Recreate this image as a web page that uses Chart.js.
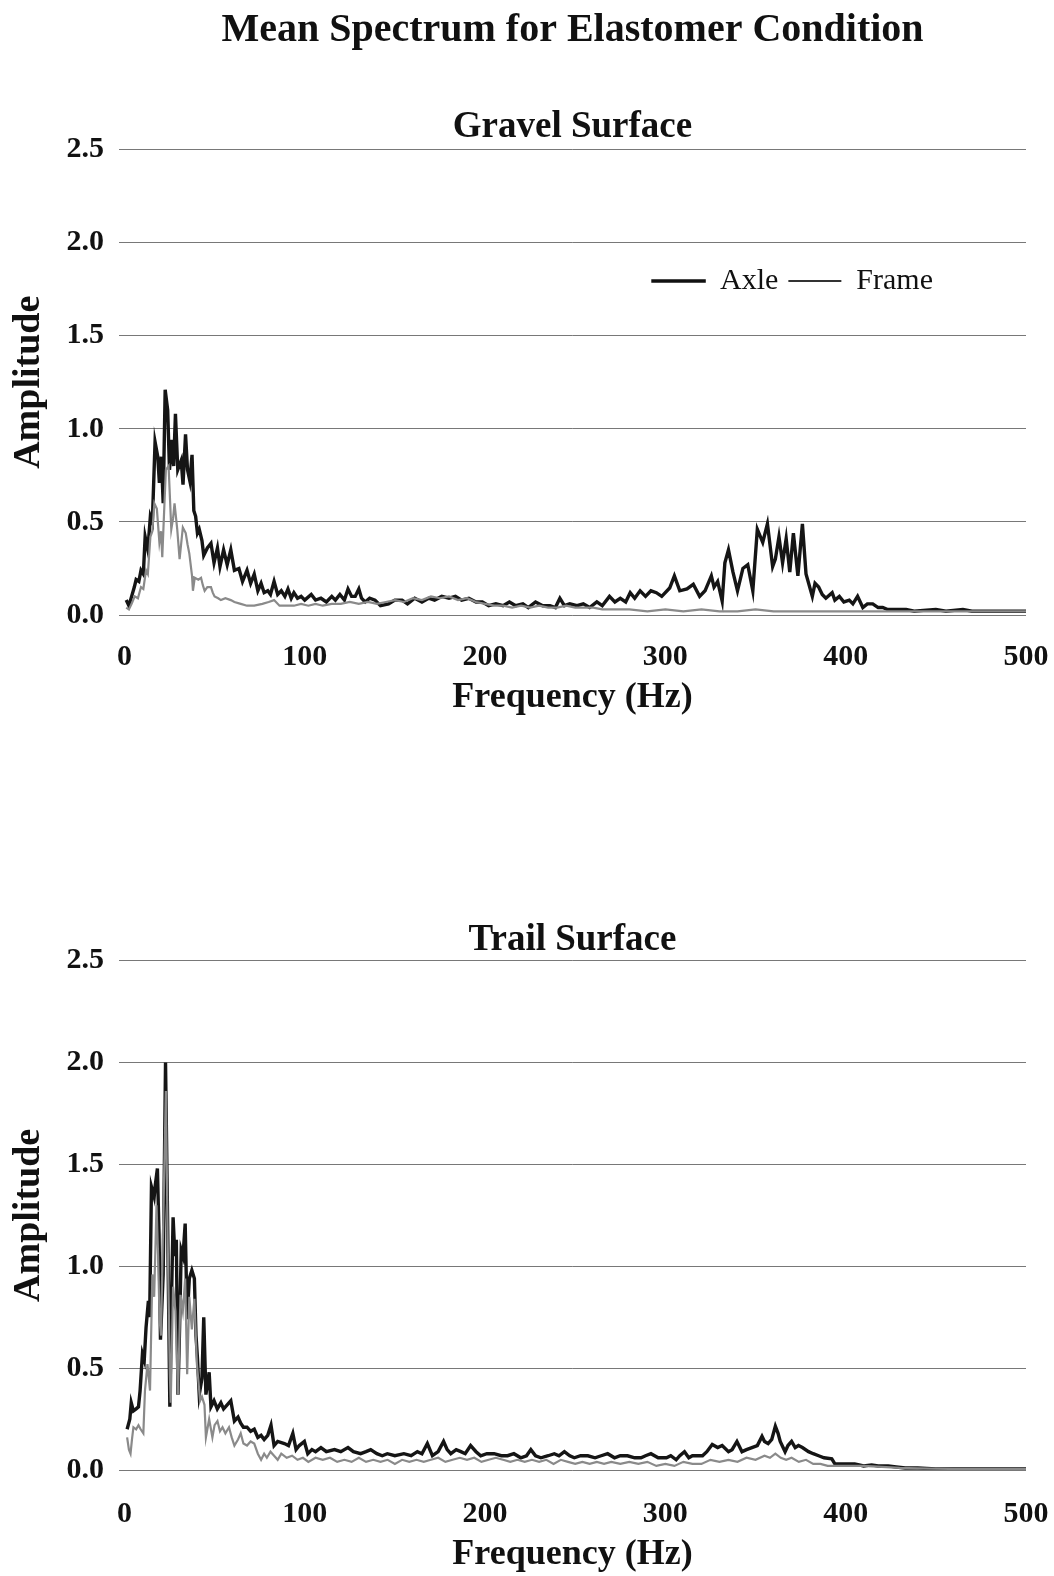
<!DOCTYPE html>
<html>
<head>
<meta charset="utf-8">
<script src="https://cdn.jsdelivr.net/npm/chart.js@4/dist/chart.umd.min.js"></script>
<style>
  html, body { margin: 0; padding: 0; background: #fff; overflow: hidden; }
  body { width: 1054px; height: 1576px; position: relative; }
  canvas { position: absolute; left: 0; }
  #top { top: 0; }
  #bottom { top: 900px; }
</style>
</head>
<body>
<canvas id="top" width="1054" height="730"></canvas>
<canvas id="bottom" width="1054" height="676"></canvas>
<script>
// ---------- text ----------
const mainTitle = 'Mean Spectrum for Elastomer Condition';
const panelTitles = ['Gravel Surface', 'Trail Surface'];
const seriesNames = ['Axle', 'Frame'];
const xAxisTitle = 'Frequency (Hz)';
const yAxisTitle = 'Amplitude';
const xTickValues = [0, 100, 200, 300, 400, 500];
const yTickValues = [0, 0.5, 1.0, 1.5, 2.0, 2.5];

// ---------- data: [frequency Hz, amplitude] ----------
const gravelAxle = [[1,0.08],[2.5,0.05],[4,0.10],[5.5,0.15],[6.5,0.19],[8,0.18],[9.2,0.24],[10.5,0.22],[11.5,0.42],[13,0.35],[14.4,0.53],[15.5,0.50],[17,0.93],[18.5,0.85],[19.4,0.71],[20.5,0.85],[21.5,0.60],[22.6,1.21],[24,1.10],[25,0.78],[26.3,0.94],[27.3,0.80],[28.3,1.08],[29.6,0.78],[31.5,0.83],[32.5,0.70],[33.9,0.97],[35,0.78],[36.3,0.72],[37.5,0.86],[38.5,0.56],[39.5,0.53],[40.5,0.44],[41.5,0.46],[43,0.40],[44,0.32],[46,0.36],[48,0.385],[49.7,0.28],[51.6,0.36],[53,0.26],[55,0.35],[57,0.27],[59,0.35],[61,0.24],[63.5,0.25],[65.5,0.18],[68,0.24],[70,0.17],[72,0.22],[74,0.13],[75.8,0.17],[77.5,0.12],[79.5,0.13],[81,0.11],[83,0.18],[85,0.11],[87,0.13],[89,0.10],[90.7,0.14],[92.5,0.09],[94,0.12],[96,0.09],[98,0.10],[100,0.08],[103.6,0.11],[106,0.08],[109,0.09],[112,0.07],[115,0.10],[117,0.08],[119.5,0.11],[122,0.08],[124,0.14],[126,0.10],[128,0.10],[130,0.14],[131.5,0.09],[133.5,0.07],[136,0.09],[139,0.08],[142,0.05],[146.5,0.06],[150,0.08],[154,0.08],[157,0.06],[161,0.09],[165,0.07],[168.7,0.09],[172,0.08],[176,0.10],[180,0.09],[183.6,0.10],[187,0.08],[191,0.09],[195,0.07],[198.5,0.07],[202,0.05],[206,0.06],[210,0.05],[213.5,0.07],[217,0.05],[221,0.06],[224,0.04],[228,0.07],[232,0.05],[236,0.05],[239,0.04],[241.5,0.09],[244,0.05],[247,0.06],[251,0.05],[254.5,0.06],[258,0.04],[262,0.07],[265,0.05],[269,0.10],[272,0.07],[275,0.09],[278,0.07],[280.5,0.12],[283,0.09],[286,0.13],[289,0.10],[292,0.13],[295,0.12],[298,0.10],[302.4,0.145],[305,0.21],[308,0.13],[312,0.14],[315.5,0.165],[319,0.10],[322,0.13],[325.5,0.21],[327,0.15],[329,0.18],[331.5,0.075],[333,0.28],[335,0.35],[337.5,0.23],[340,0.13],[343,0.25],[345.7,0.27],[348.5,0.13],[351,0.46],[354,0.39],[356.6,0.49],[359.5,0.26],[361,0.30],[363,0.42],[365,0.28],[367,0.41],[369,0.23],[371,0.44],[373.5,0.21],[376,0.49],[378,0.22],[381.5,0.10],[383,0.17],[385,0.15],[387,0.11],[389,0.09],[392.5,0.12],[394,0.08],[396.5,0.10],[399,0.07],[402,0.08],[404,0.06],[406.6,0.10],[409.5,0.04],[412,0.06],[415,0.06],[418,0.04],[420.5,0.04],[423,0.03],[426,0.03],[433.5,0.03],[438,0.02],[443,0.025],[450,0.03],[455.6,0.02],[465,0.03],[470,0.02],[480,0.02],[490,0.02],[500,0.02]];

const gravelFrame = [[1,0.04],[2.5,0.03],[4,0.06],[5.7,0.10],[7.5,0.09],[9.2,0.15],[10.5,0.14],[12,0.24],[13,0.22],[14.4,0.42],[15.5,0.45],[16.6,0.60],[18,0.57],[19.4,0.39],[20.3,0.45],[21,0.31],[22,0.55],[23,0.78],[24.5,0.80],[26,0.46],[27,0.52],[27.8,0.60],[29.3,0.46],[30.6,0.30],[32.4,0.47],[34,0.44],[35,0.38],[36,0.33],[37.5,0.21],[38,0.13],[39,0.20],[41,0.19],[42.5,0.20],[43.5,0.16],[44.5,0.13],[46,0.15],[48,0.15],[49,0.12],[50,0.10],[52,0.09],[53.5,0.08],[56,0.09],[59,0.08],[61,0.07],[64.5,0.06],[68,0.05],[72,0.05],[76.5,0.06],[80,0.07],[83,0.08],[86,0.05],[90,0.05],[94,0.05],[98,0.06],[102,0.05],[106,0.06],[110,0.05],[115,0.06],[120,0.06],[125,0.07],[130,0.06],[135,0.07],[140,0.06],[145,0.07],[150,0.08],[155,0.07],[160,0.09],[165,0.08],[170,0.10],[175,0.09],[180,0.10],[185,0.08],[190,0.09],[195,0.07],[200,0.06],[205,0.05],[210,0.05],[215,0.04],[220,0.05],[225,0.04],[230,0.05],[235,0.04],[240,0.04],[245,0.05],[250,0.04],[255,0.04],[260,0.04],[265,0.03],[270,0.03],[280,0.03],[290,0.02],[300,0.03],[310,0.02],[320,0.03],[330,0.02],[340,0.02],[350,0.03],[360,0.02],[370,0.02],[380,0.02],[400,0.02],[420,0.02],[450,0.02],[500,0.02]];

const trailAxle = [[1.5,0.20],[3,0.25],[3.8,0.33],[5,0.29],[6.5,0.30],[7.8,0.31],[8.7,0.39],[10,0.57],[11,0.54],[12,0.70],[13.3,0.83],[14,0.75],[15,1.39],[16.5,1.34],[17,1.39],[18.3,1.48],[19.2,1.16],[20,0.64],[21.5,0.96],[22.8,2.00],[23.9,1.26],[25.2,0.31],[26,0.78],[27,1.24],[28,1.05],[28.8,1.13],[29.7,0.37],[30.6,0.70],[31.5,1.08],[32.5,1.05],[33.7,1.21],[34.8,0.74],[36,0.94],[37.4,0.98],[38.8,0.94],[39.7,0.66],[40.5,0.55],[41.5,0.37],[43,0.45],[44,0.75],[45.2,0.37],[47,0.48],[48,0.31],[49.7,0.34],[51.5,0.30],[53.5,0.33],[55,0.30],[57,0.32],[59,0.34],[61,0.24],[63,0.26],[64.5,0.23],[66,0.21],[68,0.21],[70,0.19],[72,0.20],[74,0.16],[75.8,0.17],[77.5,0.15],[79.5,0.17],[81.3,0.22],[83,0.12],[85,0.14],[88.7,0.13],[91,0.12],[93.4,0.18],[95.2,0.10],[97,0.12],[99.8,0.14],[101.7,0.08],[104,0.10],[106,0.09],[109,0.11],[112,0.09],[116.5,0.10],[120,0.09],[124,0.11],[127,0.09],[131,0.08],[134,0.09],[136.6,0.10],[140,0.08],[143,0.07],[145.8,0.08],[150,0.07],[155,0.08],[159,0.07],[162.5,0.09],[165,0.08],[168,0.13],[170.8,0.07],[174,0.09],[177,0.14],[179,0.10],[181,0.08],[184,0.10],[186.6,0.09],[189,0.08],[192,0.12],[195,0.09],[197.6,0.07],[201,0.08],[205,0.08],[209,0.07],[212.5,0.07],[216,0.08],[219.8,0.06],[223,0.07],[225.4,0.10],[228,0.07],[231,0.06],[235,0.07],[238.4,0.08],[241,0.07],[244,0.09],[247,0.07],[249.5,0.06],[253,0.07],[257,0.07],[261,0.06],[264.4,0.07],[268,0.08],[271.8,0.06],[275,0.07],[279,0.07],[283,0.06],[286.5,0.06],[289,0.07],[292,0.08],[296,0.06],[300.6,0.06],[303,0.07],[306,0.05],[308,0.07],[310.6,0.09],[313,0.06],[315,0.07],[318,0.07],[320.6,0.07],[323,0.09],[326,0.125],[329,0.11],[331.5,0.12],[335,0.09],[337,0.10],[339.7,0.14],[342.5,0.09],[345,0.10],[348,0.11],[351,0.12],[353.6,0.165],[355,0.14],[357,0.13],[359,0.15],[361,0.215],[362.5,0.18],[363.7,0.14],[366.4,0.09],[368,0.12],[370,0.14],[372,0.11],[373.8,0.12],[376,0.11],[379.4,0.09],[382,0.08],[385,0.07],[388,0.06],[392.3,0.055],[394,0.03],[400,0.03],[405,0.03],[410,0.02],[414.4,0.025],[418,0.02],[423.6,0.02],[428,0.015],[433,0.01],[440,0.01],[450,0.005],[470,0.005],[500,0.005]];

const trailFrame = [[1.5,0.16],[2.5,0.10],[3.4,0.08],[4.2,0.15],[5,0.21],[6.5,0.20],[7.8,0.22],[9,0.20],[10.5,0.18],[11.4,0.39],[12.8,0.52],[14.2,0.39],[15.5,0.96],[16.5,0.85],[17.8,1.30],[18.7,1.05],[19.5,0.74],[20.3,0.66],[21.3,1.12],[22.3,1.56],[23,1.86],[24,1.12],[25.2,0.47],[25.7,0.33],[27,0.90],[28.3,0.78],[29.7,0.37],[31.1,0.86],[32.4,0.78],[33.7,0.94],[34.8,0.47],[36,0.85],[37.4,0.69],[38.8,0.84],[40.2,0.52],[42,0.34],[43,0.36],[44.4,0.32],[45.2,0.16],[47,0.25],[48.8,0.16],[50,0.22],[51.6,0.24],[53,0.19],[54.4,0.21],[56,0.18],[58,0.21],[59.5,0.16],[61,0.12],[63,0.15],[64.5,0.18],[66,0.13],[68,0.12],[70,0.14],[72,0.13],[74,0.08],[75.8,0.05],[77.5,0.08],[79,0.06],[81,0.09],[83,0.07],[85,0.05],[87,0.08],[90,0.06],[93,0.07],[96,0.05],[99,0.06],[102,0.04],[106,0.06],[110,0.05],[114,0.06],[118,0.04],[122,0.05],[126,0.04],[130,0.06],[134,0.04],[138,0.05],[142,0.04],[146,0.05],[150,0.03],[154,0.05],[158,0.04],[162,0.05],[166,0.04],[170,0.05],[174,0.06],[178,0.04],[182,0.05],[186,0.06],[190,0.05],[194,0.06],[198,0.04],[202,0.05],[206,0.06],[210,0.05],[214,0.04],[218,0.05],[222,0.04],[226,0.05],[230,0.04],[234,0.05],[238,0.03],[242,0.05],[246,0.04],[250,0.03],[254,0.04],[258,0.03],[262,0.04],[266,0.03],[270,0.04],[275,0.03],[280,0.04],[285,0.03],[290,0.04],[295,0.02],[300,0.03],[305,0.02],[310,0.04],[315,0.03],[320,0.03],[325,0.05],[330,0.04],[335,0.05],[340,0.04],[345,0.06],[350,0.05],[355,0.07],[358,0.06],[361,0.08],[364,0.06],[367,0.05],[370,0.06],[374,0.04],[378,0.05],[382,0.03],[386,0.03],[390,0.02],[395,0.02],[400,0.02],[410,0.02],[420,0.015],[430,0.01],[440,0.008],[460,0.005],[500,0.005]];

// ---------- style ----------
const FONT = "'Liberation Serif', 'Times New Roman', serif";
const INK = '#111111';
const AXLE_COLOR = '#151515';
const FRAME_COLOR = '#8a8a8a';
Chart.defaults.font.family = FONT;
Chart.defaults.color = INK;
Chart.defaults.animation = false;

const toPts = arr => arr.map(([x, y]) => ({ x, y }));

// move the legend inside the plot (upper right area)
const legendPlace = {
  id: 'legendPlace',
  afterLayout(chart) {
    const opts = chart.options.plugins.legendPlace;
    if (!opts || !opts.enabled || !chart.legend) return;
    const lg = chart.legend;
    lg.top = opts.top;
    lg.bottom = opts.top + 60;
    lg.right = opts.right;
    lg.left = opts.right - 420;
    lg.height = 60;
    lg.width = 420;
  }
};

function makeChart(id, axle, frame, cfg) {
  const ctx = document.getElementById(id);
  const plugins = {
    title: {
      display: true, text: cfg.title, fullSize: false, color: INK,
      font: { size: cfg.titleSize, weight: 'bold', family: FONT, lineHeight: cfg.titleLH },
      padding: cfg.titlePad
    },
    subtitle: cfg.subtitle ? {
      display: true, text: cfg.subtitle, fullSize: false, color: INK,
      font: { size: 37, weight: 'bold', family: FONT, lineHeight: 1.15 },
      padding: cfg.subtitlePad
    } : { display: false },
    legend: cfg.legend ? {
      display: true, position: 'top', align: 'end', fullSize: false, maxHeight: 1,
      labels: {
        boxWidth: 53, boxHeight: 2, padding: 10, color: INK,
        font: { size: 30, family: FONT },
        generateLabels: (chart) => chart.data.datasets.map((ds, i) => ({
          text: ds.label,
          fillStyle: i === 0 ? '#111' : '#333',
          strokeStyle: i === 0 ? '#111' : '#333',
          lineWidth: i === 0 ? 1.5 : 0,
          hidden: false, datasetIndex: i, fontColor: INK
        }))
      }
    } : { display: false },
    legendPlace: { enabled: !!cfg.legend, top: 256, right: 943 },
    tooltip: { enabled: false }
  };
  return new Chart(ctx, {
    type: 'line',
    data: {
      datasets: [
        { label: seriesNames[0], data: toPts(axle), borderColor: AXLE_COLOR, backgroundColor: AXLE_COLOR,
          borderWidth: 3.4, pointRadius: 0, tension: 0, order: 2 },
        { label: seriesNames[1], data: toPts(frame), borderColor: FRAME_COLOR, backgroundColor: FRAME_COLOR,
          borderWidth: 2.2, pointRadius: 0, tension: 0, order: 1 }
      ]
    },
    options: {
      responsive: false,
      devicePixelRatio: 1,
      layout: { padding: { left: 0, right: 28, top: 0, bottom: 0 } },
      plugins,
      scales: {
        x: {
          type: 'linear', min: -3, max: 500,
          afterBuildTicks: (s) => { s.ticks = xTickValues.map(v => ({ value: v })); },
          afterFit: (s) => { s.height = cfg.xAxisHeight; s.paddingLeft = 0; s.paddingRight = 0; },
          grid: { display: false, drawTicks: false },
          border: { display: false },
          ticks: { padding: cfg.xTickPad, maxRotation: 0, autoSkip: false, color: INK,
                   font: { size: 30, weight: 'bold', family: FONT }, callback: (v) => String(v) },
          title: { display: true, text: xAxisTitle, color: INK,
                   font: { size: 36, weight: 'bold', family: FONT },
                   padding: { top: 0, bottom: cfg.xTitlePadBottom } }
        },
        y: {
          type: 'linear', min: 0, max: 2.5,
          afterBuildTicks: (s) => { s.ticks = yTickValues.map(v => ({ value: v })); },
          afterFit: (s) => { s.width = 119; },
          grid: { color: 'rgba(30,30,30,0.6)', lineWidth: 1, drawTicks: false },
          border: { display: false },
          ticks: { padding: 15, color: INK, font: { size: 30, weight: 'bold', family: FONT },
                   callback: (v) => Number(v).toFixed(1) },
          title: { display: true, text: yAxisTitle, color: INK,
                   font: { size: 38, weight: 'bold', family: FONT },
                   padding: { top: 6, bottom: 0 } }
        }
      }
    },
    plugins: [legendPlace]
  });
}

makeChart('top', gravelAxle, gravelFrame, {
  title: mainTitle, titleSize: 40, titleLH: 1.2, titlePad: { top: 7, bottom: 0 },
  subtitle: panelTitles[0], subtitlePad: { top: 51, bottom: 0 },
  legend: true, xAxisHeight: 115, xTickPad: 24, xTitlePadBottom: 11
});

makeChart('bottom', trailAxle, trailFrame, {
  title: panelTitles[1], titleSize: 37, titleLH: 1.1, titlePad: { top: 20, bottom: 0 },
  subtitle: null, legend: false, xAxisHeight: 106, xTickPad: 26, xTitlePadBottom: 0
});
</script>
</body>
</html>
